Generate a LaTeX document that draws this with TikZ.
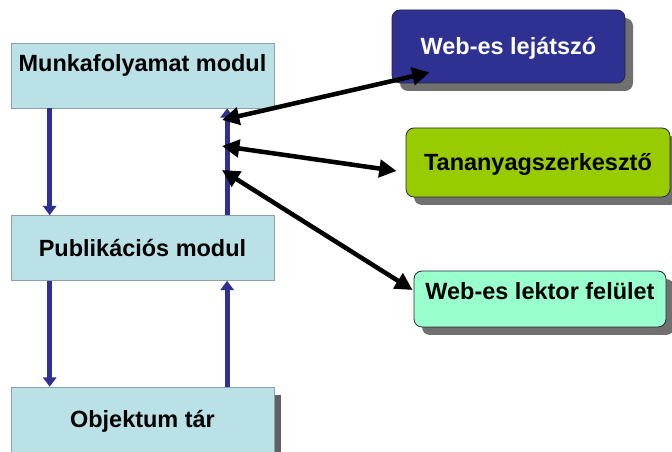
\documentclass[tikz,border=0pt]{standalone}
\usepackage{fontspec}
\setmainfont{Liberation Sans}
\usetikzlibrary{arrows.meta,calc,shadows}

\tikzset{
  modbox/.style={draw={rgb, 255:red, 140; green, 160; blue, 165 }, fill={rgb, 255:red, 186; green, 225; blue, 230 }, line width=0.5, minimum width=197.25pt, minimum height=48.75pt, inner sep=2pt, font=\fontsize{17.6}{20}\selectfont\bfseries, text height=12.6pt, text depth=0pt},
  toolbox/.style={draw={rgb, 255:red, 40; green, 40; blue, 60 }, line width=0.6, rounded corners=6pt, inner sep=2pt, font=\fontsize{17.6}{20}\selectfont\bfseries, text height=12.6pt, text depth=0pt, general shadow={fill={rgb, 255:red, 112; green, 112; blue, 112 }, shadow xshift=6pt, shadow yshift=-6pt}},
  objshadow/.style={general shadow={fill={rgb, 255:red, 96; green, 96; blue, 96 }, shadow xshift=5.25pt, shadow yshift=-6pt}},
  bluearrow/.style={draw={rgb, 255:red, 46; green, 49; blue, 146 }, line width=3.6pt, -{Triangle[length=7pt,width=10pt]}},
  linkarrow/.style={draw=black, line width=3.4pt, {Triangle[length=13pt,width=13pt]}-{Triangle[length=13pt,width=13pt]}}
}

\begin{document}
\begin{tikzpicture}[x=0.75pt,y=0.75pt,yscale=-1,xscale=1]
\useasboundingbox (0,0) rectangle (672,452);
\clip (0,0) rectangle (672,452);

%Shape: Rectangle [munka] 
\node[modbox, text depth=18.8pt] (munka) at (142.5,75.5) {Munkafolyamat modul};
%Shape: Rectangle [publ] 
\node[modbox] (publ) at (142.5,248) {Publikációs modul};
%Shape: Rectangle [obj] 
\node[modbox, objshadow] (obj) at (142.5,419.5) {Objektum tár};

%Shape: Rounded Rectangle [web] 
\node[toolbox, fill={rgb, 255:red, 46; green, 49; blue, 146 }, text=white, minimum width=174.75pt, minimum height=54.75pt] (web) at (508.5,46.5) {Web-es lejátszó};
%Shape: Rounded Rectangle [tana] 
\node[toolbox, fill={rgb, 255:red, 153; green, 204; blue, 0 }, minimum width=198pt, minimum height=51.75pt] (tana) at (538,162.5) {Tananyagszerkesztő};
%Shape: Rounded Rectangle [lektor] 
\node[toolbox, fill={rgb, 255:red, 153; green, 255; blue, 204 }, minimum width=189pt, minimum height=42pt, text depth=12pt] (lektor) at (540,299) {Web-es lektor felület};

%Straight Lines [munka -> publ -> obj] 
\draw[bluearrow] ($(munka.south west)!0.148!(munka.south east)$) -- ($(publ.north west)!0.148!(publ.north east)$);
\draw[bluearrow] ($(publ.south west)!0.148!(publ.south east)$) -- ($(obj.north west)!0.148!(obj.north east)$);
%Straight Lines [obj -> publ -> munka] 
\draw[bluearrow] ($(publ.north west)!0.821!(publ.north east)$) -- ($(munka.south west)!0.821!(munka.south east)$);
\draw[bluearrow] ($(obj.north west)!0.821!(obj.north east)$) -- ($(publ.south west)!0.821!(publ.south east)$);

% Link ends on the upward line
\coordinate (h1) at (222,120);
\coordinate (h2) at (222,146);
\coordinate (h3) at (222,170);

%Straight Lines [links] 
\draw[linkarrow] (h1) -- ($(web.south west)+(38,-11)$);
\draw[linkarrow] (h2) -- ($(tana.west)+(-9,8.5)$);
\draw[linkarrow] (h3) -- ($(lektor.west)+(-1,-9)$);

\end{tikzpicture}
\end{document}
